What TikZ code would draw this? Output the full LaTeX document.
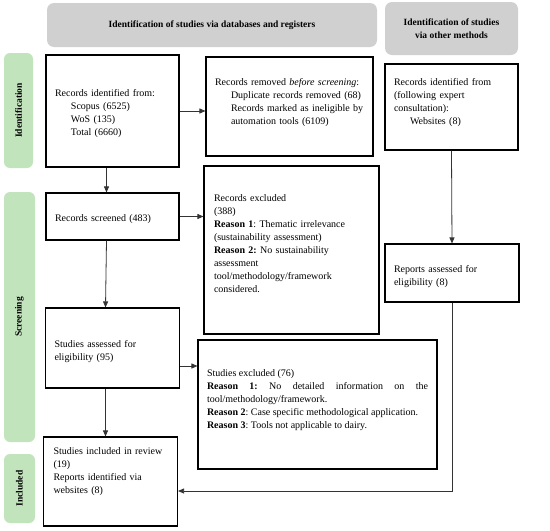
\documentclass[tikz,border=0pt]{standalone}
\usepackage{fontspec}
\setmainfont{Liberation Serif}
\frenchspacing
\usetikzlibrary{positioning,arrows.meta}
\definecolor{headgray}{RGB}{208,208,208}
\definecolor{phasegreen}{RGB}{194,228,188}

\begin{document}
\begin{tikzpicture}[
        x=1pt, y=-1pt,
        node distance = 100pt,
        box/.style={draw=black, line width=1.1pt, inner sep=0pt, align=left, font=\fontsize{10}{13}\selectfont},
        head/.style={fill=headgray, rounded corners=7pt, inner sep=0pt, align=center, font=\bfseries\fontsize{9.5}{13}\selectfont},
        phase/.style={fill=phasegreen, rounded corners=6pt, inner sep=0pt, rotate=90, font=\bfseries\fontsize{9.5}{12}\selectfont},
        flow/.style={-{Triangle[length=6pt,width=5pt]}, line width=0.8pt, draw=black!80}]

        \useasboundingbox (0,0) rectangle (550,531);

        % HEADERS
        \node[head, minimum width=330pt, minimum height=44pt] (head_db) at (212,25) {Identification of studies via databases and registers};
        \node[head, minimum width=133pt, minimum height=53pt] (head_other) at (451.5,28.5) {Identification of studies\\via other methods};

        % PHASES
        \node[phase, minimum width=115pt, minimum height=29pt] (phase_id) at (18.5,110.5) {Identification};
        \node[phase, minimum width=250pt, minimum height=31pt] (phase_scr) at (19.5,317) {Screening};
        \node[phase, minimum width=69pt, minimum height=31pt] (phase_inc) at (19.5,488.5) {Included};

        % NODES
        % databases column
        \node[box, minimum width=133pt, minimum height=112pt, text width=115pt, text depth=36pt] (recs_id) at (112.5,111)
            {Records identified from:\\ \hspace*{16pt}Scopus (6525)\\ \hspace*{16pt}WoS (135)\\ \hspace*{16pt}Total (6660)};
        \node[box, below of = recs_id, node distance = 105.5pt, minimum width=133pt, minimum height=47pt, text width=115pt, text height=13pt] (screened)
            {Records screened (483)};
        \node[box, below of = screened, node distance = 131.5pt, minimum width=134pt, minimum height=80pt, text width=116pt, text depth=9pt] (assessed)
            {Studies assessed for\\eligibility (95)};
        \node[box, below of = assessed, node distance = 133.5pt, xshift=-2pt, minimum width=134pt, minimum height=89pt, text width=114pt, text depth=61pt] (included)
            {Studies included in review\\(19)\\Reports identified via\\websites (8)};

        % exclusions
        \node[box, minimum width=167pt, minimum height=99pt, text width=149pt, text depth=49pt] (recs_removed) at (289.5,106.5)
            {Records removed \textit{before screening}:\\ \hspace*{16pt}Duplicate records removed (68)\\ \hspace*{16pt}Records marked as ineligible by\\ \hspace*{16pt}automation tools (6109)};
        \node[box, minimum width=175pt, minimum height=168pt, text width=155pt, text depth=103pt] (excluded) at (291.5,250)
            {Records excluded\\(388)\\\textbf{Reason 1}: Thematic irrelevance\\(sustainability assessment)\\\textbf{Reason 2:} No sustainability\\assessment\\tool/methodology/framework\\considered.};
        \node[box, align=justify, minimum width=239pt, minimum height=129pt, text width=221pt, text depth=63pt] (studies_excl) at (317.5,404.5)
            {Studies excluded (76)\\\textbf{Reason 1:} No detailed information on the tool/methodology/framework.\\\textbf{Reason 2}: Case specific methodological application.\\\textbf{Reason 3}: Tools not applicable to dairy.};

        % other methods column
        \node[box, minimum width=133pt, minimum height=86pt, text width=115pt, text depth=51pt] (recs_other) at (451.5,107)
            {Records identified from\\(following expert\\consultation):\\ \hspace*{16pt}Websites (8)};
        \node[box, below of = recs_other, node distance = 166pt, xshift=0.5pt, minimum width=134pt, minimum height=58pt, text width=116pt, text depth=9pt] (reports)
            {Reports assessed for\\eligibility (8)};

        % ARROWS
        \draw[flow] (recs_id.east) -- (recs_id.east -| recs_removed.west);
        \draw[flow] ([xshift=-6pt]recs_id.south) -- ([xshift=-6pt]screened.north);
        \draw[flow] (screened.east) -- (screened.east -| excluded.west);
        \draw[flow] ([xshift=-6pt]screened.south) -- ([xshift=-7pt]assessed.north);
        \draw[flow] ([yshift=-18pt]assessed.east) -- ([yshift=-18pt]assessed.east -| studies_excl.west);
        \draw[flow] ([xshift=-7pt]assessed.south) -- ([xshift=-5pt]included.north);
        \draw[flow] (recs_other.south) -- (reports.north);
        \draw[flow] (reports.south) |- ([yshift=-9.5pt]included.east);
\end{tikzpicture}
\end{document}
